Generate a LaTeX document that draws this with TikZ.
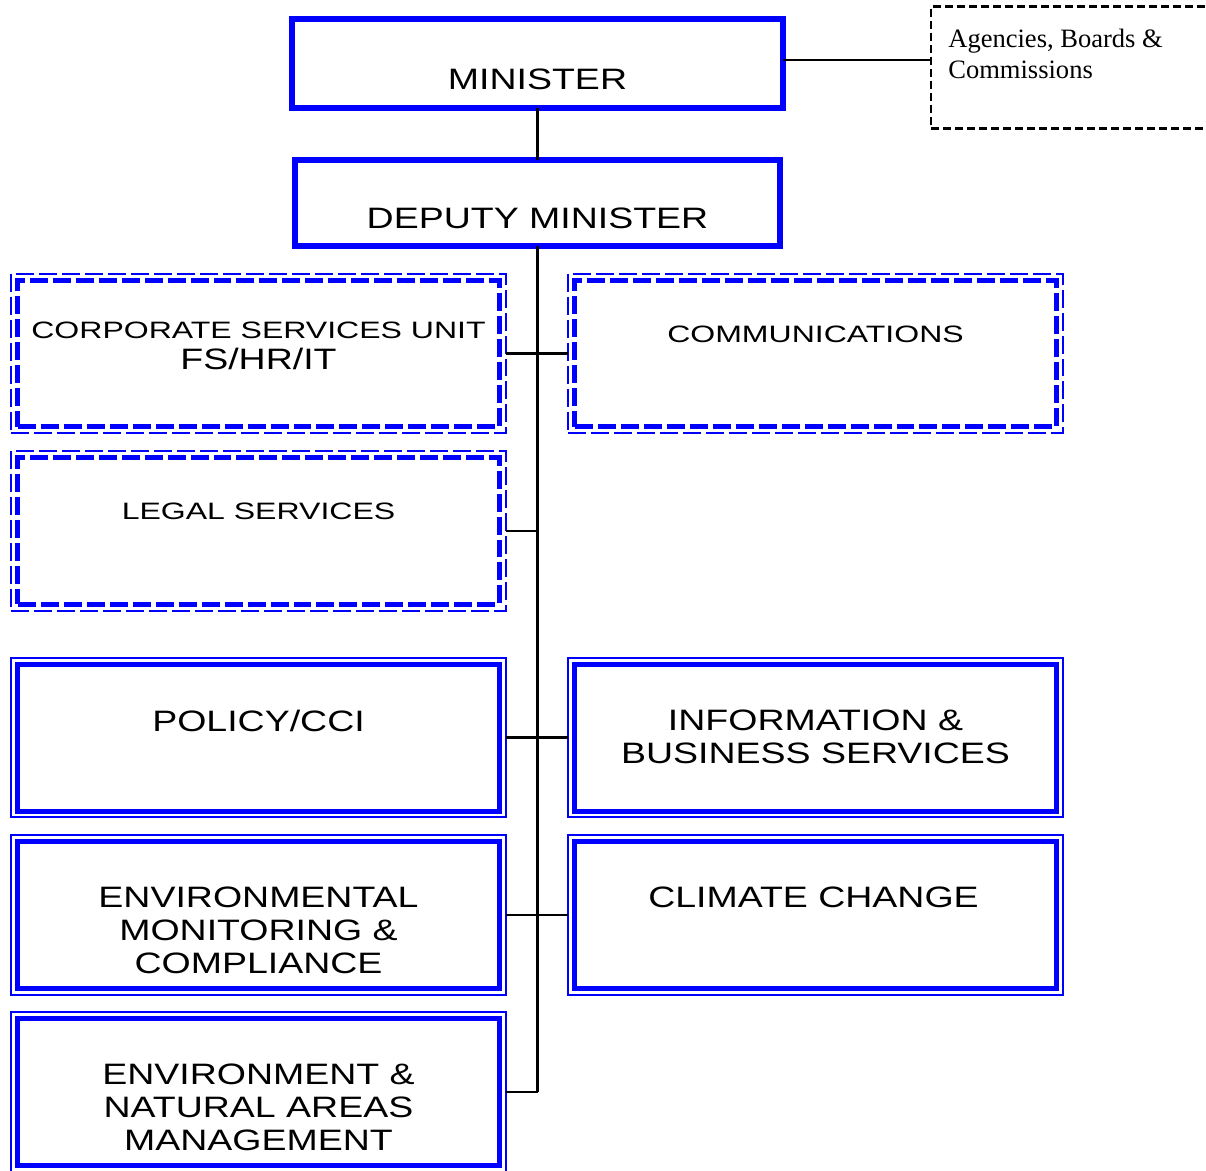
\documentclass[tikz,border=0pt]{standalone}
\usepackage{fontspec}
\setmainfont{Liberation Serif}
\newfontfamily\orgfont[FakeStretch=1.27]{Liberation Sans}
\newfontfamily\orgfontsmall[FakeStretch=1.35]{Liberation Sans}
\usetikzlibrary{fit}
\definecolor{orgblue}{RGB}{0,0,255}

\tikzset{
  headbox/.style={draw=orgblue, line width=0.12cm, inner sep=0, outer sep=0},
  unitbox/.style={draw=orgblue, fill=white, line width=0.1cm, minimum width=9.64cm,
    minimum height=2.94cm, inner sep=0, outer sep=0},
  unitframe/.style={draw=orgblue, line width=0.04cm, inner sep=0.13cm, outer sep=0},
  dashbox/.style={unitbox, dash pattern=on 0.36cm off 0.1cm},
  dashframe/.style={unitframe, dash pattern=on 0.36cm off 0.1cm},
  link/.style={draw=black, line width=0.05cm},
  bigtxt/.style={font=\orgfont\fontsize{16.8}{18.7}\selectfont, align=center,
    inner sep=0, anchor=north},
  smalltxt/.style={font=\orgfontsmall\fontsize{13.5}{17.6}\selectfont, align=center,
    inner sep=0, anchor=north},
}

\begin{document}
\begin{tikzpicture}[x=0.02cm, y=-0.02cm]
  \useasboundingbox (0,0) rectangle (1206,1170);

  % top of the ministry
  \node[headbox, minimum width=9.82cm, minimum height=1.78cm] (min) at (537.5,63.5) {};
  \node[headbox, minimum width=9.7cm, minimum height=1.72cm] (dep) at (537.5,203) {};
  \node[bigtxt] (mintext) at (537.5,69) {MINISTER};
  \node[bigtxt] (deptext) at (537.5,208) {DEPUTY MINISTER};

  % arm's length bodies
  \node[draw, line width=0.05cm, dash pattern=on 0.16cm off 0.08cm, minimum width=6.2cm,
    minimum height=2.44cm, inner sep=0, outer sep=0] (abc) at (1086,67.5) {};
  \node[font=\fontsize{15.1}{17.6}\selectfont, align=left, anchor=north west, inner sep=0]
    (abctext) at (948,29) {Agencies, Boards \&\\Commissions};

  % support units (dashed)
  \node[dashbox] (corp) at (258.5,353.5) {};
  \node[dashbox] (comm) at (815.5,353.5) {};
  \node[dashbox] (legal) at (258.5,531) {};
  \foreach \b in {corp,comm,legal}
    \node[dashframe, fit=(\b)] (\b f) {};

  % divisions
  \node[unitbox] (policy) at (258.5,737.5) {};
  \node[unitbox] (info) at (815.5,737.5) {};
  \node[unitbox] (envmon) at (258.5,915) {};
  \node[unitbox] (climate) at (815.5,915) {};
  \node[unitbox] (envnat) at (258.5,1092) {};
  \foreach \b in {policy,info,envmon,climate,envnat}
    \node[unitframe, fit=(\b)] (\b f) {};

  % labels
  \node[smalltxt] (corptext) at (258.5,322)
    {CORPORATE SERVICES UNIT\\{\orgfont\fontsize{16.8}{18.7}\selectfont FS/HR/IT}};
  \node[smalltxt] (commtext) at (815.5,326) {COMMUNICATIONS};
  \node[smalltxt] (legaltext) at (258.5,503) {LEGAL SERVICES};
  \node[bigtxt] (policytext) at (258.5,710) {POLICY/CCI};
  \node[bigtxt] (infotext) at (815.5,710) {INFORMATION \&\\BUSINESS SERVICES};
  \node[bigtxt] (envmontext) at (258.5,887) {ENVIRONMENTAL\\MONITORING \&\\COMPLIANCE};
  \node[bigtxt] (climatetext) at (813.5,887) {CLIMATE CHANGE};
  \node[bigtxt] (envnattext) at (258.5,1064) {ENVIRONMENT \&\\NATURAL AREAS\\MANAGEMENT};

  % reporting lines
  \coordinate (abcin) at (abc.west |- 0,60);
  \coordinate (spineend) at (dep.south |- envnatf.east);
  \draw[link] (min.east |- abcin) -- (abcin);
  \draw[link] (min.south) -- (dep.north);
  \draw[link] (dep.south) -- (spineend);
  \draw[link] (corpf.east) -- (commf.west);
  \draw[link] (legalf.east) -- (legalf.east -| spineend);
  \draw[link] (policyf.east) -- (infof.west);
  \draw[link] (envmonf.east) -- (climatef.west);
  \draw[link] (envnatf.east) -- (spineend);
\end{tikzpicture}
\end{document}
